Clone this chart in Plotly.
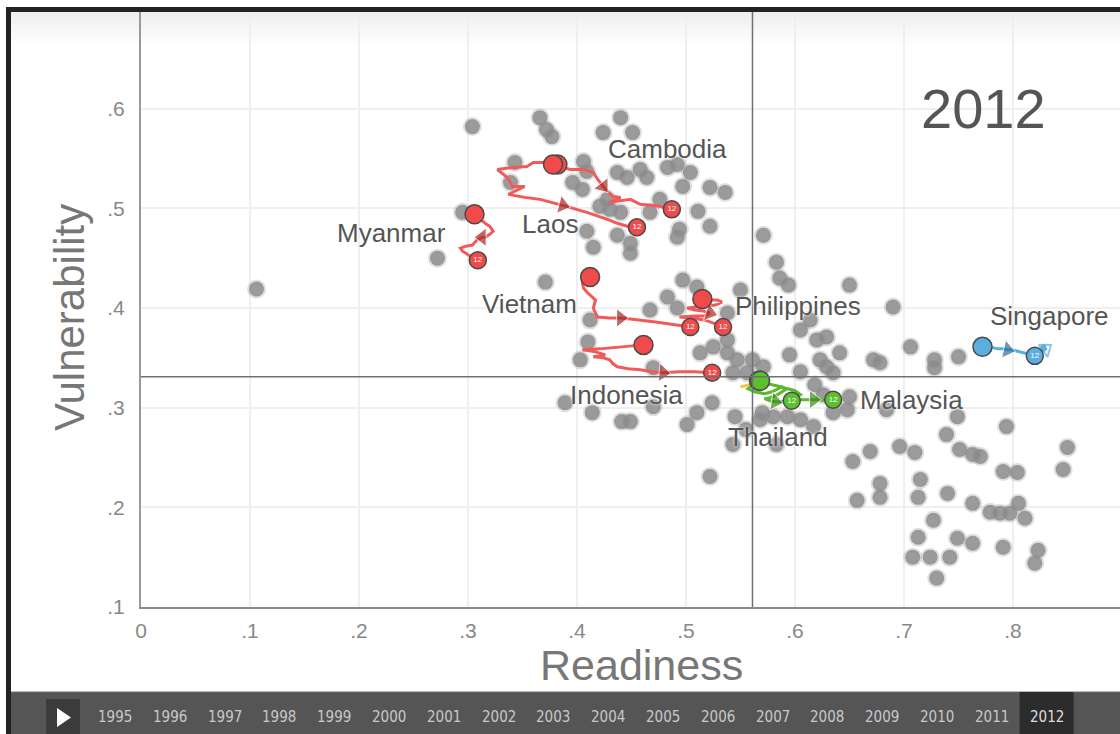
import plotly.graph_objects as go

# ---------------- data ----------------
years = list(range(1995, 2013))
current_year = 2012

x_tick_vals = [0, 0.1, 0.2, 0.3, 0.4, 0.5, 0.6, 0.7, 0.8]
x_tick_text = ["0", ".1", ".2", ".3", ".4", ".5", ".6", ".7", ".8"]
y_tick_vals = [0.1, 0.2, 0.3, 0.4, 0.5, 0.6]
y_tick_text = [".1", ".2", ".3", ".4", ".5", ".6"]

mean_readiness = 0.561
mean_vulnerability = 0.331

# other countries (2012), readiness / vulnerability
bg_x = [0.304, 0.366, 0.372, 0.377, 0.424, 0.440, 0.451, 0.343, 0.406, 0.409, 0.396, 0.405,
        0.437, 0.446, 0.458, 0.464, 0.483, 0.492, 0.504, 0.497, 0.522, 0.536, 0.421, 0.430,
        0.440, 0.428, 0.467, 0.476, 0.511, 0.522, 0.492, 0.409, 0.415, 0.437, 0.449, 0.449,
        0.295, 0.272, 0.494, 0.339, 0.106,
        0.571, 0.583, 0.586, 0.594, 0.650, 0.690, 0.371, 0.412, 0.410, 0.403, 0.467, 0.483,
        0.497, 0.510, 0.492, 0.550, 0.538, 0.538, 0.538, 0.547, 0.513, 0.525, 0.561, 0.571,
        0.605, 0.614, 0.620, 0.629, 0.623, 0.629, 0.635, 0.641, 0.672, 0.678, 0.543, 0.556,
        0.470, 0.706, 0.728, 0.728, 0.750, 0.595, 0.605, 0.618, 0.626, 0.650,
        0.389, 0.414, 0.441, 0.449, 0.470, 0.501, 0.510, 0.524, 0.545, 0.543, 0.583, 0.522,
        0.570, 0.580, 0.593, 0.617, 0.635, 0.648, 0.684, 0.749, 0.794, 0.739, 0.751, 0.763,
        0.770, 0.696, 0.710, 0.669, 0.653, 0.850, 0.846, 0.791, 0.804, 0.678, 0.678, 0.715,
        0.713, 0.740, 0.657, 0.763, 0.779, 0.788, 0.797, 0.805, 0.811, 0.727, 0.713, 0.749,
        0.763, 0.791, 0.823, 0.820, 0.708, 0.724, 0.742, 0.730, 0.568, 0.555, 0.605]
bg_y = [0.582, 0.591, 0.579, 0.572, 0.576, 0.591, 0.576, 0.546, 0.547, 0.537, 0.526, 0.519,
        0.536, 0.531, 0.539, 0.531, 0.541, 0.544, 0.536, 0.522, 0.521, 0.516, 0.502, 0.499,
        0.496, 0.509, 0.496, 0.509, 0.497, 0.482, 0.471, 0.477, 0.461, 0.473, 0.465, 0.455,
        0.496, 0.450, 0.479, 0.526, 0.419,
        0.473, 0.446, 0.430, 0.423, 0.423, 0.401, 0.426, 0.388, 0.366, 0.348, 0.398, 0.411,
        0.428, 0.421, 0.400, 0.418, 0.395, 0.368, 0.355, 0.348, 0.355, 0.361, 0.348, 0.341,
        0.378, 0.388, 0.368, 0.371, 0.348, 0.341, 0.335, 0.355, 0.348, 0.345, 0.335, 0.335,
        0.340, 0.361, 0.348, 0.340, 0.351, 0.353, 0.336, 0.323, 0.313, 0.311,
        0.305, 0.295, 0.286, 0.286, 0.301, 0.283, 0.295, 0.305, 0.291, 0.263, 0.263, 0.231,
        0.295, 0.291, 0.291, 0.281, 0.295, 0.298, 0.298, 0.291, 0.281, 0.273, 0.258, 0.253,
        0.251, 0.261, 0.255, 0.256, 0.246, 0.260, 0.238, 0.236, 0.235, 0.224, 0.210, 0.228,
        0.210, 0.214, 0.207, 0.204, 0.195, 0.194, 0.194, 0.204, 0.189, 0.187, 0.170, 0.169,
        0.164, 0.160, 0.157, 0.144, 0.150, 0.150, 0.150, 0.129, 0.288, 0.278, 0.288]

# highlighted countries, one value per year 1995..2012
cambodia_x = [0.382, 0.387, 0.394, 0.406, 0.415, 0.419, 0.424, 0.428, 0.433, 0.440, 0.430, 0.441,
              0.449, 0.458, 0.467, 0.476, 0.482, 0.487]
cambodia_y = [0.544, 0.541, 0.539, 0.539, 0.536, 0.529, 0.522, 0.517, 0.512, 0.511, 0.506, 0.508,
              0.509, 0.504, 0.503, 0.502, 0.500, 0.499]
laos_x = [0.378, 0.372, 0.360, 0.354, 0.341, 0.327, 0.336, 0.341, 0.352, 0.337, 0.352, 0.366,
          0.387, 0.409, 0.428, 0.437, 0.446, 0.455]
laos_y = [0.544, 0.546, 0.546, 0.542, 0.541, 0.539, 0.531, 0.522, 0.522, 0.514, 0.511, 0.509,
          0.503, 0.496, 0.489, 0.485, 0.482, 0.481]
myanmar_x = [0.306, 0.309, 0.314, 0.317, 0.320, 0.323, 0.320, 0.316, 0.313, 0.308, 0.304, 0.298,
             0.293, 0.295, 0.298, 0.302, 0.306, 0.309]
myanmar_y = [0.494, 0.491, 0.486, 0.484, 0.482, 0.477, 0.474, 0.471, 0.471, 0.468, 0.463, 0.462,
             0.460, 0.457, 0.455, 0.452, 0.450, 0.448]
vietnam_x = [0.412, 0.407, 0.405, 0.406, 0.409, 0.413, 0.417, 0.416, 0.415, 0.417, 0.419, 0.430,
             0.440, 0.449, 0.458, 0.472, 0.485, 0.504]
vietnam_y = [0.431, 0.428, 0.425, 0.420, 0.416, 0.412, 0.408, 0.404, 0.400, 0.395, 0.391, 0.390,
             0.390, 0.389, 0.388, 0.386, 0.384, 0.381]
philippines_x = [0.515, 0.522, 0.529, 0.533, 0.527, 0.517, 0.504, 0.501, 0.508, 0.516, 0.522, 0.517,
                 0.508, 0.494, 0.504, 0.517, 0.527, 0.534]
philippines_y = [0.409, 0.408, 0.408, 0.406, 0.403, 0.402, 0.401, 0.400, 0.398, 0.397, 0.395, 0.392,
                 0.392, 0.391, 0.390, 0.388, 0.384, 0.381]
indonesia_x = [0.461, 0.444, 0.421, 0.405, 0.417, 0.426, 0.415, 0.424, 0.430, 0.433, 0.437, 0.447,
               0.458, 0.469, 0.479, 0.494, 0.508, 0.524]
indonesia_y = [0.363, 0.361, 0.359, 0.358, 0.356, 0.353, 0.351, 0.350, 0.348, 0.344, 0.341, 0.339,
               0.338, 0.336, 0.335, 0.336, 0.336, 0.335]
thailand_x = [0.567, 0.561, 0.557, 0.563, 0.572, 0.579, 0.584, 0.588, 0.591, 0.584, 0.577, 0.572,
              0.577, 0.582, 0.586, 0.591, 0.594, 0.597]
thailand_y = [0.327, 0.322, 0.319, 0.316, 0.314, 0.316, 0.319, 0.321, 0.318, 0.313, 0.310, 0.309,
              0.307, 0.306, 0.306, 0.307, 0.307, 0.307]
malaysia_x = [0.568, 0.575, 0.583, 0.590, 0.595, 0.600, 0.605, 0.601, 0.595, 0.600, 0.605, 0.610,
              0.617, 0.621, 0.626, 0.629, 0.632, 0.635]
malaysia_y = [0.327, 0.324, 0.322, 0.320, 0.319, 0.317, 0.313, 0.310, 0.310, 0.309, 0.308, 0.308,
              0.308, 0.308, 0.308, 0.308, 0.308, 0.308]
singapore_x = [0.772, 0.777, 0.782, 0.786, 0.791, 0.795, 0.799, 0.803, 0.806, 0.810, 0.814, 0.817,
               0.819, 0.825, 0.830, 0.828, 0.825, 0.820]
singapore_y = [0.361, 0.360, 0.360, 0.359, 0.359, 0.358, 0.358, 0.357, 0.356, 0.355, 0.354, 0.353,
               0.352, 0.355, 0.359, 0.363, 0.356, 0.352]
brunei_x = [0.550, 0.555, 0.566]
brunei_y = [0.321, 0.322, 0.326]

# ---------------- styles ----------------
RED = dict(line="#f25a5a", fill="#f04a4a", arrow="#a52b2b")
GREEN = dict(line="#5cb82e", fill="#5cbf2e", arrow="#3d8a1c")
BLUE = dict(line="#5aaee0", fill="#5aaee0", arrow="#2f6f9a")

countries = [
    # name, x, y, palette, arrow year index, label xshift, label yshift
    ("Cambodia", cambodia_x, cambodia_y, RED, 6, -4, 60),
    ("Laos", laos_x, laos_y, RED, 12, -87, 3),
    ("Myanmar", myanmar_x, myanmar_y, RED, 8, -86, 27),
    ("Vietnam", vietnam_x, vietnam_y, RED, 12, -161, 23),
    ("Philippines", philippines_x, philippines_y, RED, 10, 75, 21),
    ("Indonesia", indonesia_x, indonesia_y, RED, 14, -86, -22),
    ("Thailand", thailand_x, thailand_y, GREEN, 13, -14, -36),
    ("Malaysia", malaysia_x, malaysia_y, GREEN, 12, 78, 0),
    ("Singapore", singapore_x, singapore_y, BLUE, 5, 15, 40),
]

fig = go.Figure()
annotations = []

fig.add_trace(go.Scatter(
    x=bg_x, y=bg_y, mode="markers", hoverinfo="skip",
    marker=dict(size=15, color="rgba(138,138,138,0.85)",
                line=dict(color="rgba(150,150,150,0.3)", width=4)),
))

fig.add_trace(go.Scatter(x=brunei_x, y=brunei_y, mode="lines", hoverinfo="skip",
                         line=dict(color="#f5c242", width=3)))

for name, xs, ys, pal, ai, dx, dy in countries:
    fig.add_trace(go.Scatter(x=xs, y=ys, mode="lines", hoverinfo="skip",
                             line=dict(color=pal["line"], width=3)))
    fig.add_trace(go.Scatter(
        x=[xs[ai - 1], xs[ai]], y=[ys[ai - 1], ys[ai]], mode="markers", hoverinfo="skip",
        marker=dict(symbol="triangle-up", size=[0, 16], color=pal["arrow"], angleref="previous"),
    ))
    if name == "Singapore":
        fig.add_trace(go.Scatter(
            x=[xs[13], xs[14]], y=[ys[13], ys[14]], mode="markers", hoverinfo="skip",
            marker=dict(symbol="triangle-up-open", size=[0, 13], color=pal["line"],
                        line=dict(width=2), angleref="previous"),
        ))

for name, xs, ys, pal, ai, dx, dy in countries:
    fig.add_trace(go.Scatter(
        x=[xs[0]], y=[ys[0]], mode="markers", hoverinfo="skip",
        marker=dict(size=19, color=pal["fill"], line=dict(color="#4a4a4a", width=1.5)),
    ))
    fig.add_trace(go.Scatter(
        x=[xs[-1]], y=[ys[-1]], mode="markers+text", hoverinfo="skip",
        text=[str(years[-1])[-2:]], textposition="middle center",
        textfont=dict(size=8, color="white", family="Liberation Sans"),
        marker=dict(size=17, color=pal["fill"], line=dict(color="#4a4a4a", width=1.5)),
    ))
    annotations.append(dict(x=xs[-1], y=ys[-1], xref="x", yref="y", xshift=dx, yshift=dy,
                            text=name, showarrow=False,
                            font=dict(size=26, color="#555555", family="Liberation Sans",
                                      shadow="0 0 3px white")))

# ---------------- layout ----------------
W, H = 1120, 734
PL, PR, PT, PB = 141, 1120, 12, 607


def px(v):
    return (v - PL) / (PR - PL)


def py(v):
    return (PB - v) / (PB - PT)


shapes = []
# soft shading at the top of the frame
for k in range(8):
    shapes.append(dict(type="rect", xref="paper", yref="paper", x0=px(11), x1=px(1120),
                       y0=py(12 + 4 * (k + 1)), y1=py(12), layer="below",
                       fillcolor="rgba(0,0,0,0.009)", line=dict(width=0)))
# reference (mean) lines
shapes.append(dict(type="line", xref="x", yref="paper", x0=mean_readiness, x1=mean_readiness,
                   y0=0, y1=1, line=dict(color="#707070", width=1.5)))
shapes.append(dict(type="line", xref="paper", yref="y", x0=0, x1=1, y0=mean_vulnerability,
                   y1=mean_vulnerability, line=dict(color="#707070", width=1.5)))
# outer dark frame
shapes.append(dict(type="line", xref="paper", yref="paper", x0=px(8.5), x1=px(8.5), layer="below",
                   y0=py(734), y1=py(9.5), line=dict(color="#222222", width=5)))
shapes.append(dict(type="line", xref="paper", yref="paper", x0=px(6), x1=px(1120), layer="below",
                   y0=py(9.5), y1=py(9.5), line=dict(color="#222222", width=5)))
# timeline bar
shapes.append(dict(type="rect", xref="paper", yref="paper", x0=px(11), x1=px(1120), layer="below",
                   y0=py(734), y1=py(692), fillcolor="#555555", line=dict(width=0)))
shapes.append(dict(type="line", xref="paper", yref="paper", x0=px(11), x1=px(1120), layer="below",
                   y0=py(692), y1=py(692), line=dict(color="#6e6e6e", width=1)))
shapes.append(dict(type="rect", xref="paper", yref="paper", x0=px(46), x1=px(80), layer="below",
                   y0=py(734), y1=py(699), fillcolor="#3b3b3b", line=dict(width=0)))
shapes.append(dict(type="path", xref="paper", yref="paper", layer="below",
                   path=f"M {px(57)} {py(708)} L {px(57)} {py(727)} L {px(71)} {py(717.5)} Z",
                   fillcolor="white", line=dict(width=0)))

for i, yr in enumerate(years):
    cx = 115 + i * 54.8
    if yr == current_year:
        shapes.append(dict(type="rect", xref="paper", yref="paper", x0=px(cx - 27), x1=px(cx + 27),
                           y0=py(734), y1=py(692), fillcolor="#2c2c2c", line=dict(width=0),
                           layer="below"))
    annotations.append(dict(xref="paper", yref="paper", x=px(cx), y=py(717), text=str(yr),
                            showarrow=False, xanchor="center", yanchor="middle",
                            font=dict(size=15, color="#dddddd" if yr == current_year else "#c8c8c8",
                                      family="DejaVu Sans Condensed, Liberation Sans, sans-serif")))

annotations.append(dict(xref="paper", yref="paper", x=px(641), y=py(665), text="Readiness",
                        showarrow=False, xanchor="center", yanchor="middle",
                        font=dict(size=43, color="#777777", family="Liberation Sans")))
annotations.append(dict(xref="paper", yref="paper", x=px(70), y=py(318), text="Vulnerability",
                        showarrow=False, xanchor="center", yanchor="middle", textangle=-90,
                        font=dict(size=42, color="#777777", family="Liberation Sans")))
annotations.append(dict(xref="paper", yref="paper", x=px(983), y=py(109), text=str(current_year),
                        showarrow=False, xanchor="center", yanchor="middle",
                        font=dict(size=56, color="#555555", family="Liberation Sans")))

tickfont = dict(size=21, color="#888888", family="Liberation Sans")

fig.update_layout(
    width=W, height=H,
    margin=dict(l=PL, r=W - PR, t=PT, b=H - PB, pad=0),
    paper_bgcolor="white", plot_bgcolor="white",
    showlegend=False,
    xaxis=dict(range=[0, (PR - PL) / 1090], tickvals=x_tick_vals, ticktext=x_tick_text,
               showgrid=True, gridcolor="#efefef", gridwidth=1.5, zeroline=False,
               showline=True, linecolor="#8a8a8a", linewidth=2, ticks="", tickfont=tickfont,
               ticklabelstandoff=4),
    yaxis=dict(range=[0.1, 0.697], tickvals=y_tick_vals, ticktext=y_tick_text,
               showgrid=True, gridcolor="#efefef", gridwidth=1.5, zeroline=False,
               showline=True, linecolor="#9a9a9a", linewidth=2, ticks="", tickfont=tickfont,
               ticklabelstandoff=10),
    shapes=shapes,
    annotations=annotations,
)

fig.write_html("out.html", config={"displayModeBar": False},
               post_script="document.body.style.margin='0';document.body.style.overflow='hidden';")
